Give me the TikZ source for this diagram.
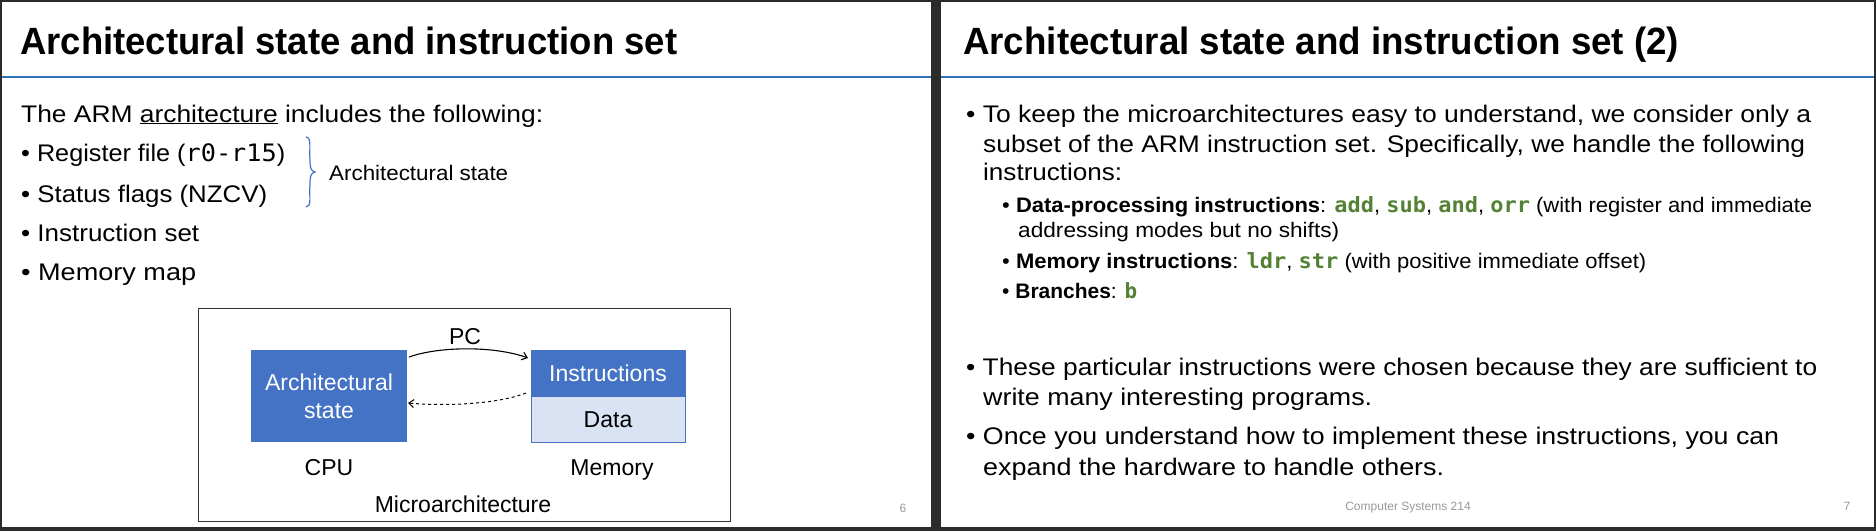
\documentclass[tikz,border=0pt]{standalone}
\usepackage{fontspec}
\usepackage{graphicx}
\setmainfont{Liberation Sans}
\newfontfamily\codefont{DejaVu Sans Mono}
\usetikzlibrary{arrows.meta}
\definecolor{frame}{HTML}{2B2B2B}
\definecolor{rule}{HTML}{2E75B6}
\definecolor{boxblue}{HTML}{4472C4}
\definecolor{lightblue}{HTML}{DAE3F3}
\definecolor{codegreen}{HTML}{548235}
\newcommand\fl[2]{\resizebox{#1pt}{\height}{#2}}
\newcommand\cw[1]{{\codefont\bfseries\color{codegreen}#1}}
\tikzset{
  ln/.style={anchor=base west,inner sep=0pt},
  titlef/.style={ln,font=\fontsize{38}{40}\selectfont},
  bodyf/.style={ln,font=\fontsize{24}{26}\selectfont},
  subf/.style={ln,font=\fontsize{21}{23}\selectfont},
  ctr/.style={anchor=base,inner sep=0pt,font=\fontsize{23}{25}\selectfont},
  foot/.style={anchor=base,inner sep=0pt,font=\fontsize{12}{14}\selectfont,text=gray!80},
  blk/.style={draw=boxblue,line width=1pt}
}
\begin{document}
\begin{tikzpicture}[x=1pt,y=-1pt]
\useasboundingbox (0,0) rectangle (1876,531);
\fill[frame] (0,0) rectangle (1876,531);
\fill[white] (2,2) rectangle (931,527);
\fill[white] (941,2) rectangle (1874,527);
\draw[rule,line width=2.5pt] (2,77) -- (931,77);
\draw[rule,line width=2.5pt] (941,77) -- (1874,77);
% left slide
\node[titlef] (t1) at (20,54) {\fl{657}{\bfseries Architectural state and instruction set}};
\node[bodyf] (l1) at (21,122) {\fl{522}{The ARM \underline{architecture} includes the following:}};
\node[bodyf] (l2) at (21,161) {\fl{264}{\textbullet\ Register file ({\codefont r0-r15})}};
\node[bodyf] (l3) at (21,202) {\fl{246}{\textbullet\ Status flags (NZCV)}};
\node[bodyf] (l4) at (21,241) {\fl{178}{\textbullet\ Instruction set}};
\node[bodyf] (l5) at (21,280) {\fl{175}{\textbullet\ Memory map}};
\draw[boxblue,line width=1.2pt] (306,137) .. controls (312,137) and (309,150) .. (310,160) .. controls (310,168) and (311,171) .. (315,172) .. controls (311,173) and (310,176) .. (310,184) .. controls (309,196) and (312,207) .. (306,207);
\node[subf] (as) at (329,180) {\fl{179}{Architectural state}};
\draw[black!80,line width=1pt] (198,308) rectangle (730,521);
\node[blk,fill=boxblue,minimum width=155pt,minimum height=91pt,inner sep=0pt] (cpu) at (328.5,395.5) {};
\node[ctr,text=white] (cpu1) at (329,390) {Architectural};
\node[ctr,text=white] (cpu2) at (329,418) {state};
\node[blk,fill=boxblue,minimum width=154pt,minimum height=46pt,inner sep=0pt] (ins) at (608,373) {};
\node[blk,fill=lightblue,minimum width=154pt,minimum height=46pt,inner sep=0pt] (dat) at (608,419) {};
\node[ctr,text=white] (inst) at (608,381) {Instructions};
\node[ctr] (datt) at (608,427) {Data};
\coordinate (a1) at (409,357);
\coordinate (a2) at (528,358);
\coordinate (b1) at (526,393);
\coordinate (b2) at (408,403);
\draw[-{Straight Barb[length=5pt,width=8pt]},line width=1.1pt] (a1) .. controls (440,346) and (495,346) .. (a2);
\draw[-{Straight Barb[length=5pt,width=8pt]},dashed,line width=1pt] (b1) .. controls (495,405) and (440,406) .. (b2);
\node[ctr] (pc) at (465,344) {PC};
\node[ctr] (cpul) at (329,475) {CPU};
\node[ctr] (meml) at (612,475) {Memory};
\node[ctr] (micro) at (463,512) {Microarchitecture};
\node[foot] (p6) at (903,512) {6};
% right slide
\node[titlef] (t2) at (963,54) {\fl{716}{\bfseries Architectural state and instruction set (2)}};
\node[bodyf] (r1) at (966,122) {\fl{845}{\textbullet\ To keep the microarchitectures easy to understand, we consider only a}};
\node[bodyf] (r2) at (983,152) {\fl{822}{subset of the ARM instruction set. Specifically, we handle the following}};
\node[bodyf] (r3) at (983,180) {\fl{139}{instructions:}};
\node[subf] (s1) at (1002,212) {\fl{810}{\textbullet\ \textbf{Data-processing instructions}: \cw{add}, \cw{sub}, \cw{and}, \cw{orr} (with register and immediate}};
\node[subf] (s1b) at (1018,237) {\fl{321}{addressing modes but no shifts)}};
\node[subf] (s2) at (1002,268) {\fl{644}{\textbullet\ \textbf{Memory instructions}: \cw{ldr}, \cw{str} (with positive immediate offset)}};
\node[subf] (s3) at (1002,298) {\fl{135}{\textbullet\ \textbf{Branches}: \cw{b}}};
\node[bodyf] (r4) at (966,375) {\fl{851}{\textbullet\ These particular instructions were chosen because they are sufficient to}};
\node[bodyf] (r5) at (983,405) {\fl{389}{write many interesting programs.}};
\node[bodyf] (r6) at (966,444) {\fl{813}{\textbullet\ Once you understand how to implement these instructions, you can}};
\node[bodyf] (r7) at (983,475) {\fl{461}{expand the hardware to handle others.}};
\node[foot] (ft) at (1408,510) {Computer Systems 214};
\node[foot] (p7) at (1847,510) {7};
\end{tikzpicture}
\end{document}
